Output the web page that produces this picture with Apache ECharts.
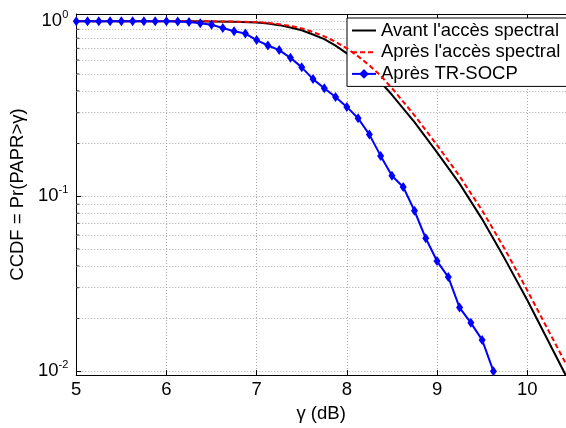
<!DOCTYPE html>
<html>
<head>
<meta charset="utf-8">
<script src="https://cdn.jsdelivr.net/npm/echarts@6/dist/echarts.min.js"></script>
<style>html,body{margin:0;padding:0;background:#fff;}#c{width:566px;height:428px;}</style>
</head>
<body>
<div id="c"></div>
<script>
const FONT = "'Liberation Sans', Arial, Helvetica, sans-serif";
const xTicksMin = 5, xTicksMax = 10.43;
const gammaSmooth = [5, 5.25, 5.5, 5.75, 6, 6.25, 6.5, 6.75, 7, 7.125, 7.25, 7.375, 7.5, 7.625, 7.75, 7.875, 8, 8.125, 8.25, 8.375, 8.5, 8.75, 9, 9.25, 9.5, 9.75, 10, 10.25, 10.5];
const avantValues = [1, 1, 1, 1, 1, 0.9999, 0.998, 0.993, 0.985, 0.97, 0.95, 0.922, 0.888, 0.84, 0.79, 0.725, 0.655, 0.587, 0.515, 0.448, 0.38, 0.265, 0.178, 0.118, 0.074, 0.044, 0.0255, 0.0143, 0.008];
const apresValues = [1, 1, 1, 1, 1, 1, 0.999, 0.995, 0.99, 0.978, 0.962, 0.94, 0.91, 0.868, 0.82, 0.763, 0.70, 0.63, 0.56, 0.488, 0.415, 0.29, 0.196, 0.13, 0.083, 0.05, 0.029, 0.0165, 0.0094];
const gammaSocp = [5, 5.125, 5.25, 5.375, 5.5, 5.625, 5.75, 5.875, 6, 6.125, 6.25, 6.375, 6.5, 6.625, 6.75, 6.875, 7, 7.125, 7.25, 7.375, 7.5, 7.625, 7.75, 7.875, 8, 8.125, 8.25, 8.375, 8.5, 8.625, 8.75, 8.875, 9, 9.125, 9.25, 9.375, 9.5, 9.625];
const socpValues = [1, 1, 1, 1, 1, 1, 1, 1, 1, 0.998, 0.99, 0.975, 0.955, 0.915, 0.876, 0.85, 0.78, 0.727, 0.684, 0.618, 0.545, 0.467, 0.414, 0.369, 0.324, 0.279, 0.225, 0.17, 0.131, 0.113, 0.0826, 0.0575, 0.0426, 0.0345, 0.0231, 0.0189, 0.0151, 0.01];
const minorY = [0.02, 0.03, 0.04, 0.05, 0.06, 0.07, 0.08, 0.09, 0.2, 0.3, 0.4, 0.5, 0.6, 0.7, 0.8, 0.9];
const seriesNames = ["Avant l'accès spectral", "Après l'accès spectral", "Après TR-SOCP"];
const xName = 'γ (dB)';
const yName = 'CCDF = Pr(PAPR>γ)';

const gridStyle = { color: '#a8a8a8', width: 1, type: [1, 2] };
const chart = echarts.init(document.getElementById('c'), null, { renderer: 'canvas' });
const zip = (xs, ys) => xs.map((x, i) => [x, ys[i]]);

chart.setOption({
  animation: false,
  backgroundColor: '#fff',
  textStyle: { fontFamily: FONT },
  grid: { left: 75, right: 0, top: 14, bottom: 48, containLabel: false },
  legend: {
    orient: 'vertical', left: 347, top: 18,
    data: [
      { name: seriesNames[0], itemStyle: { opacity: 0 } },
      { name: seriesNames[1], itemStyle: { opacity: 0 } },
      { name: seriesNames[2] }
    ],
    itemWidth: 24, itemHeight: 12, itemGap: 0.7,
    padding: [2, 10, 2, 4],
    borderColor: '#000', borderWidth: 1, borderRadius: 0,
    backgroundColor: '#fff',
    textStyle: { fontSize: 18.5, color: '#000', fontFamily: FONT, lineHeight: 21 }
  },
  xAxis: [{
    type: 'value', min: xTicksMin, max: xTicksMax, interval: 1,
    name: xName, nameLocation: 'middle', nameGap: 15,
    nameTextStyle: { fontSize: 18.5, color: '#000', fontFamily: FONT },
    axisLine: { show: true, onZero: false, lineStyle: { color: '#000', width: 1 } },
    axisTick: { show: true, inside: true, length: 5, lineStyle: { color: '#000' } },
    axisLabel: { fontSize: 18.5, color: '#000', margin: 5, fontFamily: FONT, showMaxLabel: false },
    splitLine: { show: true, lineStyle: gridStyle }
  }, {
    type: 'value', min: xTicksMin, max: xTicksMax, interval: 1, position: 'top',
    axisLine: { show: true, onZero: false, lineStyle: { color: '#000', width: 1 } },
    axisTick: { show: true, inside: true, length: 5, lineStyle: { color: '#000' } },
    axisLabel: { show: false },
    splitLine: { show: false }
  }],
  yAxis: {
    type: 'log', logBase: 10, min: 0.0095, max: 1.1,
    name: yName, nameLocation: 'middle', nameGap: 41, nameRotate: 90,
    nameTextStyle: { fontSize: 18.5, color: '#000', fontFamily: FONT },
    axisLine: { show: true, onZero: false, lineStyle: { color: '#000', width: 1 } },
    axisTick: { show: true, inside: true, length: 5, lineStyle: { color: '#000' } },
    splitLine: { show: true, lineStyle: gridStyle },
    axisLabel: {
      margin: 8, showMinLabel: false, showMaxLabel: false,
      formatter: function (v) {
        const e = Math.round(Math.log10(v));
        return '{b|10}{s|' + e + '}';
      },
      rich: {
        b: { fontSize: 18.5, color: '#000', fontFamily: FONT, lineHeight: 24, verticalAlign: 'middle' },
        s: { fontSize: 11, color: '#000', fontFamily: FONT, lineHeight: 12, verticalAlign: 'top' }
      }
    }
  },
  series: [
    {
      name: seriesNames[0], type: 'line', data: zip(gammaSmooth, avantValues),
      symbol: 'none', z: 3,
      lineStyle: { color: '#000', width: 2 }, itemStyle: { color: '#000' },
      markLine: {
        silent: true, symbol: 'none', z: 1, animation: false,
        label: { show: false },
        lineStyle: gridStyle,
        data: minorY.map(v => ({ yAxis: v }))
      }
    },
    {
      name: seriesNames[1], type: 'line', data: zip(gammaSmooth, apresValues),
      symbol: 'none', z: 4,
      lineStyle: { color: '#ff0000', width: 2, type: [5, 3] }, itemStyle: { color: '#ff0000' }
    },
    {
      name: seriesNames[2], type: 'line', data: zip(gammaSocp, socpValues),
      symbol: 'diamond', symbolSize: [7, 10], showSymbol: true, z: 5,
      lineStyle: { color: '#0000ff', width: 2 }, itemStyle: { color: '#0000ff' }
    },
    {
      name: 'minorTicks', type: 'scatter', data: minorY.map(v => [xTicksMin, v]),
      symbol: 'rect', symbolSize: [3, 1], symbolOffset: [1.5, 0], silent: true, z: 6,
      itemStyle: { color: '#000' }
    }
  ]
});
</script>
</body>
</html>
